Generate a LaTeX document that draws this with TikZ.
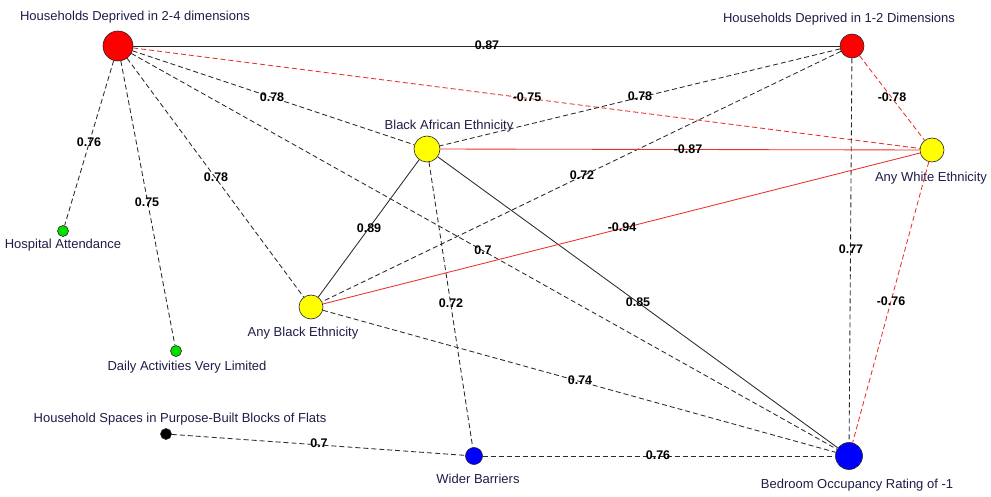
\documentclass[tikz,border=0pt]{standalone}
\usepackage{fontspec}
\setmainfont{Liberation Sans}
\definecolor{nred}{HTML}{FF0000}
\definecolor{nyel}{HTML}{FFFF00}
\definecolor{ngreen}{HTML}{00E000}
\definecolor{nblue}{HTML}{0000FF}
\definecolor{ered}{HTML}{E8322E}
\definecolor{egray}{HTML}{2A2A2A}
\definecolor{ltxt}{HTML}{1E1E48}
\begin{document}
\begin{tikzpicture}[x=1pt,y=-1pt,
  vtx/.style={circle,draw=black!85,line width=0.6pt,inner sep=0pt,minimum size=#1},
  nlab/.style={text=ltxt,font=\fontsize{13}{15}\selectfont,inner sep=0pt},
  elab/.style={text=black,font=\bfseries\fontsize{12.5}{14}\selectfont,inner sep=0pt},
  lnPS/.style={draw=egray,line width=0.85pt},
  lnPD/.style={draw=egray,line width=0.85pt,dash pattern=on 5pt off 3pt},
  lnNS/.style={draw=ered,line width=0.85pt},
  lnND/.style={draw=ered,line width=0.85pt,dash pattern=on 5pt off 3pt}]
\useasboundingbox (0,0) rectangle (991,497);
\fill[white] (0,0) rectangle (991,497);
% vertices
\node[vtx=30,fill=nred] (hd24) at (118,46) {};
\node[vtx=24,fill=nred] (hd12) at (852,46) {};
\node[vtx=26,fill=nyel] (bae) at (427,149) {};
\node[vtx=24,fill=nyel] (awe) at (932,150) {};
\node[vtx=24,fill=nyel] (abe) at (311,307) {};
\node[vtx=11,fill=ngreen] (hosp) at (63,231) {};
\node[vtx=11,fill=ngreen] (daily) at (176,351) {};
\node[vtx=11,fill=black] (hs) at (166,434) {};
\node[vtx=17,fill=nblue] (wb) at (474,456) {};
\node[vtx=27,fill=nblue] (bed) at (849,456) {};
% vertex labels
\node[nlab] (thd24) at (135,17) {Households Deprived in 2-4 dimensions};
\node[nlab] (thd12) at (839,19) {Households Deprived in 1-2 Dimensions};
\node[nlab] (tbae) at (449,126) {Black African Ethnicity};
\node[nlab] (tawe) at (931,178) {Any White Ethnicity};
\node[nlab] (tabe) at (303,333) {Any Black Ethnicity};
\node[nlab] (thosp) at (63,245) {Hospital Attendance};
\node[nlab] (tdaily) at (187,367) {Daily Activities Very Limited};
\node[nlab] (ths) at (180,419) {Household Spaces in Purpose-Built Blocks of Flats};
\node[nlab] (twb) at (478,479) {Wider Barriers};
\node[nlab] (tbed) at (857,485) {Bedroom Occupancy Rating of -1};
% edges
\draw[lnPS] (hd24) -- (hd12);
\draw[lnND] (hd24) -- (awe);
\draw[lnPD] (hd24) -- (bae);
\draw[lnPD] (hd24) -- (abe);
\draw[lnPD] (hd24) -- (hosp);
\draw[lnPD] (hd24) -- (daily);
\draw[lnPD] (hd24) -- (bed);
\draw[lnPD] (hd12) -- (bae);
\draw[lnPD] (hd12) -- (abe);
\draw[lnND] (hd12) -- (awe);
\draw[lnPD] (hd12) -- (bed);
\draw[lnNS] (bae) -- (awe);
\draw[lnPS] (bae) -- (abe);
\draw[lnPD] (bae) -- (wb);
\draw[lnPS] (bae) -- (bed);
\draw[lnNS] (abe) -- (awe);
\draw[lnPD] (abe) -- (bed);
\draw[lnND] (awe) -- (bed);
\draw[lnPD] (hs) -- (wb);
\draw[lnPD] (wb) -- (bed);
% edge labels
\node[elab] (e1) at (487,45) {0.87};
\node[elab] (e2) at (527,97) {-0.75};
\node[elab] (e3) at (272,97) {0.78};
\node[elab] (e4) at (216,177) {0.78};
\node[elab] (e5) at (89,142) {0.76};
\node[elab] (e6) at (147,202) {0.75};
\node[elab] (e7) at (640,96) {0.78};
\node[elab] (e8) at (892,97) {-0.78};
\node[elab] (e9) at (688,149) {-0.87};
\node[elab] (e10) at (582,175) {0.72};
\node[elab] (e11) at (622,227) {-0.94};
\node[elab] (e12) at (369,228) {0.89};
\node[elab] (e13) at (483,250) {0.7};
\node[elab] (e14) at (451,303) {0.72};
\node[elab] (e15) at (638,302) {0.85};
\node[elab] (e16) at (851,249) {0.77};
\node[elab] (e17) at (891,301) {-0.76};
\node[elab] (e18) at (580,380) {0.74};
\node[elab] (e19) at (319,443) {0.7};
\node[elab] (e20) at (658,455) {0.76};
\end{tikzpicture}
\end{document}
